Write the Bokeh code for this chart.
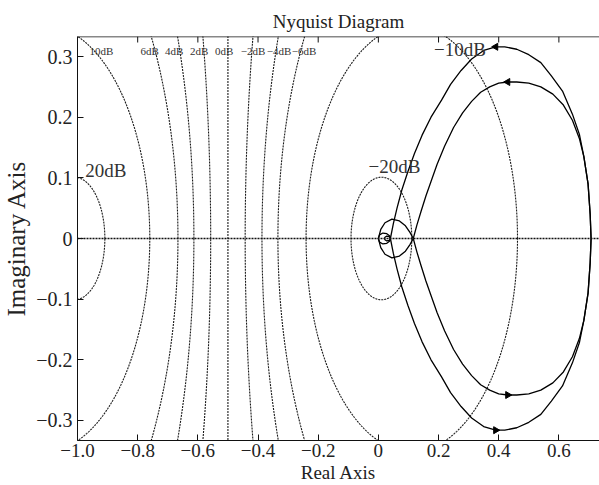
import numpy as np
from bokeh.plotting import figure
from bokeh.models import Range1d, FixedTicker, Span
from bokeh.core.properties import value
from bokeh.embed import file_html
from bokeh.resources import INLINE

# ---------------- data ----------------
m_db = [20, 10, 6, 4, 2, 0, -2, -4, -6, -10, -20]

small_labels = ["10dB", "6dB", "4dB", "2dB", "0dB", "−2dB", "−4dB", "−6dB"]
small_label_x = [-0.96, -0.791, -0.709, -0.626, -0.543, -0.457, -0.371, -0.288]
small_label_y = [0.309] * 8

big_labels = ["20dB", "−20dB", "−10dB"]
big_label_x = [-0.974, -0.033, 0.185]
big_label_y = [0.112, 0.119, 0.312]

# positive-frequency branch of each Nyquist curve
inner_re = [0.707, 0.704, 0.697, 0.683, 0.668, 0.645, 0.615, 0.580, 0.540, 0.500,
            0.460, 0.430, 0.400, 0.370, 0.340, 0.310, 0.280, 0.250, 0.220, 0.195,
            0.175, 0.158, 0.142, 0.128, 0.116, 0.105, 0.090, 0.070, 0.045, 0.022,
            0.008, 0.000, 0.004, 0.015, 0.028, 0.038, 0.040, 0.036, 0.028, 0.022, 0.020]
inner_im = [0.000, -0.040, -0.090, -0.135, -0.165, -0.195, -0.220, -0.238, -0.250, -0.256,
            -0.258, -0.258, -0.256, -0.250, -0.241, -0.226, -0.207, -0.183, -0.152, -0.122,
            -0.094, -0.070, -0.045, -0.022, 0.000, 0.010, 0.021, 0.029, 0.032, 0.026,
            0.015, 0.000, -0.006, -0.009, -0.008, -0.004, 0.000, 0.003, 0.004, 0.002, 0.000]

outer_re = [0.707, 0.704, 0.697, 0.683, 0.668, 0.645, 0.612, 0.575, 0.540, 0.500,
            0.460, 0.420, 0.390, 0.350, 0.310, 0.275, 0.240, 0.210, 0.175, 0.145,
            0.120, 0.098, 0.078, 0.062, 0.050, 0.040]
outer_im = [0.000, -0.040, -0.090, -0.135, -0.172, -0.205, -0.243, -0.268, -0.290, -0.303,
            -0.312, -0.316, -0.316, -0.310, -0.296, -0.277, -0.254, -0.228, -0.200, -0.170,
            -0.140, -0.110, -0.080, -0.050, -0.025, 0.000]

inner_arrow_idx = 11
outer_arrow_idx = 12

x_ticks = [-1.0, -0.8, -0.6, -0.4, -0.2, 0.0, 0.2, 0.4, 0.6]
x_tick_labels = ["−1.0", "−0.8", "−0.6", "−0.4", "−0.2", "0", "0.2", "0.4", "0.6"]
y_ticks = [-0.3, -0.2, -0.1, 0.0, 0.1, 0.2, 0.3]
y_tick_labels = ["−0.3", "−0.2", "−0.1", "0", "0.1", "0.2", "0.3"]

x_lim = (-1.0, 0.735)
y_lim = (-0.333, 0.333)

# ---------------- figure ----------------
FONT = "Liberation Serif"
W, H = 599, 485
B_LEFT, B_RIGHT, B_TOP, B_BOTTOM = 77, 0, 36, 45
p = figure(width=W, height=H,
           x_range=Range1d(*x_lim), y_range=Range1d(*y_lim),
           output_backend="svg", toolbar_location=None,
           min_border_left=B_LEFT, min_border_right=B_RIGHT,
           min_border_top=B_TOP, min_border_bottom=B_BOTTOM,
           title="Nyquist Diagram")
p.grid.visible = False
p.outline_line_color = None
p.background_fill_color = "white"

p.title.align = "center"
p.title.text_font = FONT
p.title.text_font_size = "19px"
p.title.text_font_style = "normal"
p.title.text_color = "#222222"
p.title.standoff = 10

def style_axis(ax, ticks, labels, size):
    ax.ticker = FixedTicker(ticks=ticks)
    ax.major_label_overrides = {t: l for t, l in zip(ticks, labels)}
    ax.major_tick_in = 6
    ax.major_tick_out = 0
    ax.minor_tick_line_color = None
    ax.axis_line_color = "#111111"
    ax.major_tick_line_color = "#111111"
    ax.major_label_text_font = FONT
    ax.major_label_text_font_size = size
    ax.major_label_text_color = "#222222"
    ax.axis_label_text_font = FONT
    ax.axis_label_text_font_style = "normal"
    ax.axis_label_text_color = "#222222"

style_axis(p.xaxis[0], x_ticks, x_tick_labels, "19px")
p.xaxis.axis_label = "Real Axis"
p.xaxis.axis_label_text_font_size = "19px"
p.xaxis.major_label_standoff = 3
p.xaxis.axis_label_standoff = 2
style_axis(p.yaxis[0], y_ticks, y_tick_labels, "20px")
p.yaxis.axis_label = "Imaginary Axis"
p.yaxis.axis_label_text_font_size = "25px"
p.yaxis.major_label_standoff = 5
p.yaxis.axis_label_standoff = 3

# top frame line with inward ticks
p.add_layout(Span(location=y_lim[1], dimension="width", line_color="#111111", line_width=1.5))
frame_h = H - B_TOP - B_BOTTOM
tick_len = (y_lim[1] - y_lim[0]) * 6.0 / frame_h
p.segment(x0=x_ticks, y0=[y_lim[1]] * len(x_ticks), x1=x_ticks,
          y1=[y_lim[1] - tick_len] * len(x_ticks), line_color="#111111", line_width=1)

# ---------------- M circles ----------------
theta = np.linspace(0, 2 * np.pi, 1441)
for db in m_db:
    M = 10 ** (db / 20.0)
    if db == 0:
        xs, ys = [-0.5, -0.5], [-1.0, 1.0]
    else:
        c = -M ** 2 / (M ** 2 - 1)
        r = abs(M / (M ** 2 - 1))
        xs, ys = c + r * np.cos(theta), r * np.sin(theta)
    p.line(xs, ys, line_color="#1a1a1a", line_width=1.1, line_dash="2 1")

p.add_layout(Span(location=0, dimension="width", line_color="#111111",
                  line_width=1.3, line_dash="2 1"))

# ---------------- Nyquist curves ----------------
for re, im in [(inner_re, inner_im), (outer_re, outer_im)]:
    re_a = np.array(re)
    im_a = np.array(im)
    p.line(re_a, im_a, line_color="black", line_width=1.3, line_join="round")
    p.line(re_a, -im_a, line_color="black", line_width=1.3, line_join="round")

ax_x = [inner_re[inner_arrow_idx], outer_re[outer_arrow_idx]]
ax_y = [inner_im[inner_arrow_idx], outer_im[outer_arrow_idx]]
# bottom arrows (pointing right), top arrows (pointing left)
p.scatter(ax_x, ax_y, marker="triangle", size=7, angle=-np.pi / 2, color="black")
p.scatter(ax_x, [-v for v in ax_y], marker="triangle", size=7, angle=np.pi / 2, color="black")

# ---------------- labels ----------------
p.text(small_label_x, small_label_y, text=small_labels, text_font=value(FONT),
       text_font_size="11px", text_baseline="middle", text_align="left", text_color="#333333")
p.text(big_label_x, big_label_y, text=big_labels, text_font=value(FONT),
       text_font_size="19px", text_baseline="middle", text_align="left", text_color="#333333")

open("out.html", "w").write(file_html(p, INLINE))
